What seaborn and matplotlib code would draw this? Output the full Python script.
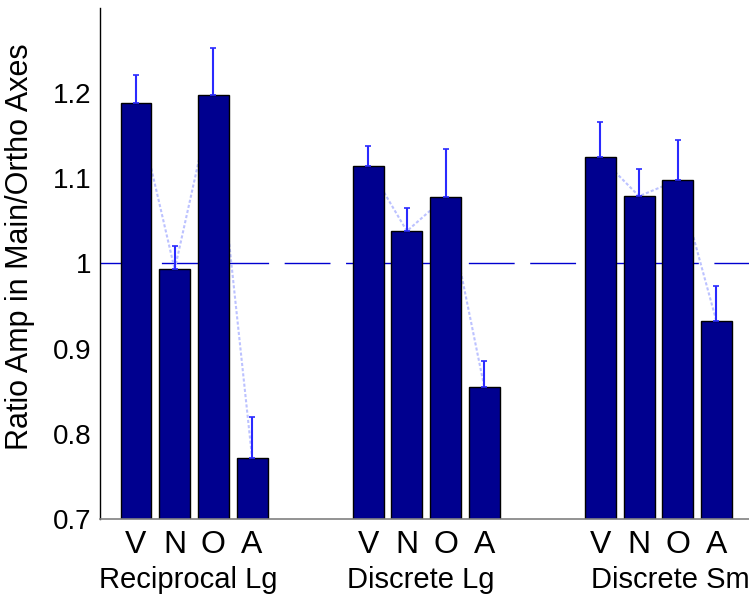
import matplotlib as mpl

mpl.use("Agg")

import matplotlib.pyplot as plt
import seaborn as sns
import numpy as np
import pandas as pd

sns.set_style("white")
plt.rcParams["font.family"] = ["Liberation Sans", "DejaVu Sans"]
plt.rcParams["text.color"] = "black"
plt.rcParams["axes.labelcolor"] = "black"
plt.rcParams["xtick.color"] = "black"
plt.rcParams["ytick.color"] = "black"

# data
conditions = ["Reciprocal Lg", "Discrete Lg", "Discrete Sm"]
views = ["V", "N", "O", "A"]
recip_lg = [1.189, 0.993, 1.198, 0.772]
discrete_lg = [1.115, 1.038, 1.078, 0.855]
discrete_sm = [1.125, 1.079, 1.098, 0.932]
recip_lg_err = [0.032, 0.027, 0.055, 0.048]
discrete_lg_err = [0.023, 0.027, 0.057, 0.031]
discrete_sm_err = [0.041, 0.032, 0.047, 0.041]

means = [recip_lg, discrete_lg, discrete_sm]
errs = [recip_lg_err, discrete_lg_err, discrete_sm_err]

rows = []
for g, cond in enumerate(conditions):
    for i, v in enumerate(views):
        rows.append(
            {
                "cond": cond,
                "view": v,
                "pos": g * 6 + i + 1,
                "value": means[g][i],
                "err": errs[g][i],
            }
        )
df = pd.DataFrame(rows)

fig = plt.figure(figsize=(7.49, 5.96), dpi=100)
ax = fig.add_axes([0.1335, 0.1292, 0.8665, 0.8574])

# reference line at 1, behind the bars
ax.axhline(1.0, color="#0000d0", linewidth=1.0, dashes=(33, 11.2), zorder=0.5)

# light dashed line linking the bar tops in each group
for cond, sub in df.groupby("cond", sort=False):
    ax.plot(
        sub["pos"], sub["value"], color="#bcc2ff", linewidth=1.5,
        linestyle=(0, (1.5, 1)), zorder=0.8,
    )

sns.barplot(
    data=df, x="pos", y="value", native_scale=True, color="#00008f",
    saturation=1, edgecolor="black", linewidth=1, width=0.8,
    errorbar=None, ax=ax, zorder=1,
)

ax.errorbar(
    df["pos"], df["value"], yerr=[np.zeros(len(df)), df["err"]],
    fmt="none", ecolor="#2a2aff", elinewidth=1.5, capsize=2, capthick=1.2,
    zorder=2,
)

ax.set_ylim(0.7, 1.3)
ax.set_xlim(0.07, 16.84)
ax.set_yticks([0.7, 0.8, 0.9, 1.0, 1.1, 1.2])
ax.set_yticklabels(["0.7", "0.8", "0.9", "1", "1.1", "1.2"], fontsize=20)
ax.set_xticks(df["pos"])
ax.set_xticklabels(df["view"], fontsize=23)
ax.tick_params(axis="x", length=0, pad=8)
ax.tick_params(axis="y", direction="in", length=5, width=0.8, pad=6)
ax.set_xlabel("")
ax.set_ylabel("Ratio Amp in Main/Ortho Axes", fontsize=22)
ax.yaxis.set_label_coords(-0.1, 0.532)

# group names under the letters (last one sits a bit to the right, as in the original)
label_shift = [-0.15, -0.15, 0.3]
for g, cond in enumerate(conditions):
    center = g * 6 + 2.5 + label_shift[g]
    ax.text(
        center, -0.12, cond, transform=ax.get_xaxis_transform(),
        ha="center", va="center", fontsize=21, clip_on=False,
    )

sns.despine(ax=ax)
ax.spines["left"].set_color("black")
ax.spines["left"].set_linewidth(1.0)
ax.spines["bottom"].set_color("#808080")
ax.spines["bottom"].set_linewidth(1.2)

fig.savefig("out.png", dpi=100)
